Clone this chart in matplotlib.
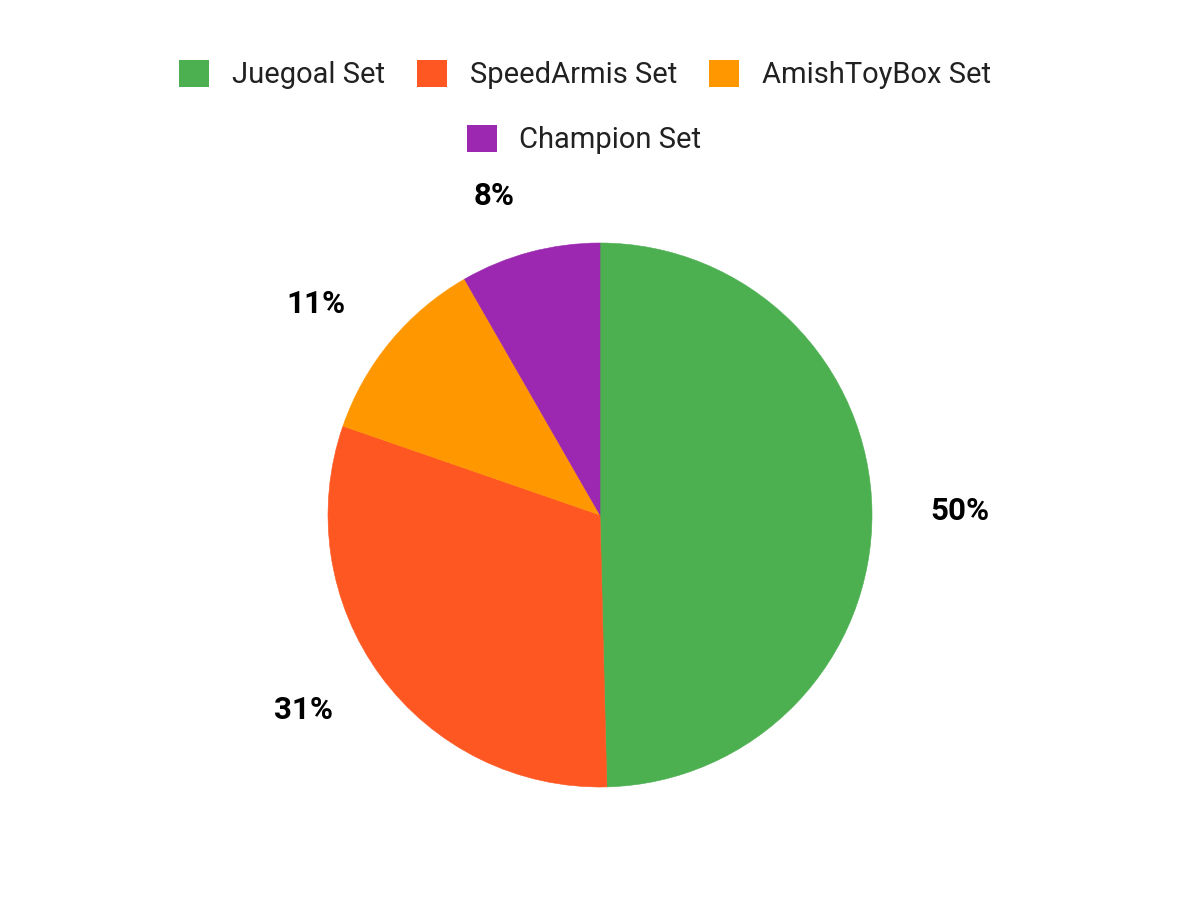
import matplotlib

matplotlib.use("Agg")
import matplotlib.pyplot as plt
import numpy as np
from matplotlib.patches import Patch

plt.rcParams["font.family"] = ["Roboto", "DejaVu Sans"]

# shares (percent)
SETS = ["Juegoal Set", "SpeedArmis Set", "AmishToyBox Set", "Champion Set"]
SHARES = [49.6, 30.7, 11.4, 8.3]
COLORS = ["#4CAF50", "#FF5722", "#FF9800", "#9C27B0"]
INK = "#212121"

fig = plt.figure(figsize=(12, 9), dpi=100)
# pie centre at (600, 515) px, radius 272 px
R_PX = 272
span = 1.5
left = (600 - span * R_PX) / 1200
bottom = (900 - 515 - span * R_PX) / 900
ax = fig.add_axes([left, bottom, 2 * span * R_PX / 1200, 2 * span * R_PX / 900])

wedges, _ = ax.pie(SHARES, colors=COLORS, startangle=90, counterclock=False,
                   radius=1.0)
for w in wedges:
    w.set_edgecolor(w.get_facecolor())
    w.set_linewidth(0.4)
ax.set_xlim(-span, span)
ax.set_ylim(-span, span)
ax.set_aspect("equal")
ax.axis("off")

total = sum(SHARES)
for w, v in zip(wedges, SHARES):
    mid = np.deg2rad((w.theta1 + w.theta2) / 2)
    x, y = 1.215 * np.cos(mid), 1.215 * np.sin(mid)
    ax.text(x, y, f"{round(100 * v / total)}%", ha="left" if x > 0 else "right",
            va="center", fontsize=22.5, fontweight="bold", color="black")

handles = [Patch(facecolor=c, edgecolor="none") for c in COLORS]
common = dict(frameon=False, fontsize=21, handlelength=1.03, handleheight=1.03,
              handletextpad=0.78, columnspacing=1.1, labelcolor=INK,
              loc="center", borderpad=0)
fig.legend(handles[:3], SETS[:3], ncol=3, bbox_to_anchor=(0.4875, 0.917), **common)
fig.legend(handles[3:], SETS[3:], ncol=1, bbox_to_anchor=(0.4867, 0.845), **common)

fig.savefig("out.png", dpi=100, facecolor="white")
